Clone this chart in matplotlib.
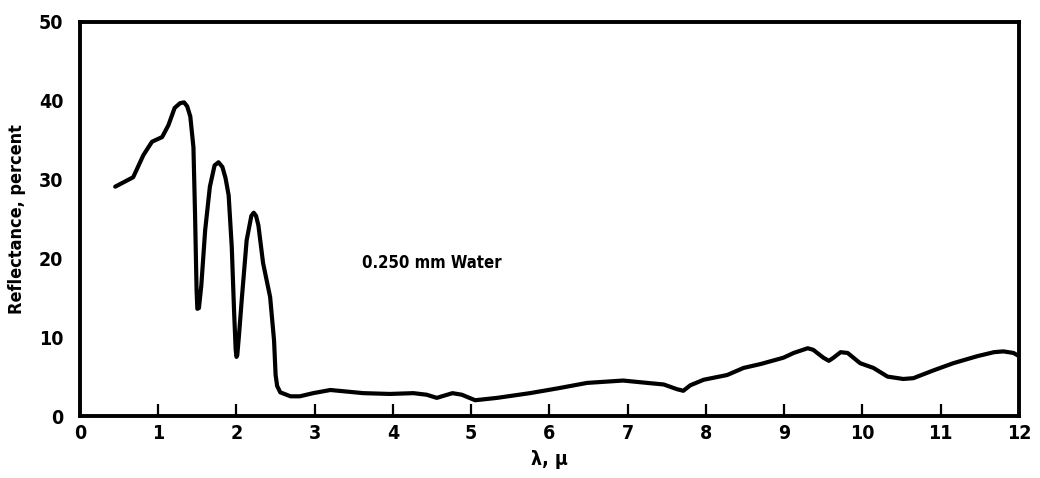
import matplotlib
matplotlib.use("Agg")
import matplotlib.pyplot as plt
from matplotlib import font_manager

# Reflectance spectrum of a 0.250 mm water layer
wavelength = [0.45, 0.68, 0.81, 0.92, 1.05, 1.13, 1.21, 1.28, 1.33, 1.37, 1.41, 1.45,
              1.47, 1.49, 1.50, 1.52, 1.55, 1.60, 1.66, 1.72, 1.77, 1.82, 1.86, 1.90,
              1.94, 1.97, 1.99, 2.00, 2.01, 2.03, 2.07, 2.13, 2.19, 2.22, 2.25, 2.28,
              2.34, 2.43, 2.48, 2.50, 2.52, 2.56, 2.69, 2.81, 2.98, 3.20, 3.62, 3.96,
              4.26, 4.43, 4.56, 4.76, 4.88, 5.05, 5.33, 5.75, 6.10, 6.48, 6.94, 7.25,
              7.46, 7.63, 7.71, 7.80, 7.97, 8.27, 8.48, 8.70, 8.99, 9.12, 9.30, 9.37,
              9.50, 9.57, 9.63, 9.72, 9.81, 9.97, 10.14, 10.32, 10.52, 10.65, 10.91,
              11.16, 11.47, 11.68, 11.80, 11.93, 12.00]
reflectance = [29.1, 30.3, 33.1, 34.8, 35.4, 36.9, 39.1, 39.7, 39.8, 39.3, 38.0, 34.1,
               25.8, 16.0, 13.6, 13.7, 16.5, 23.6, 29.1, 31.8, 32.2, 31.6, 30.2, 28.0,
               21.4, 13.1, 8.4, 7.5, 7.7, 10.0, 15.1, 22.3, 25.4, 25.8, 25.4, 24.2,
               19.4, 15.1, 9.6, 5.2, 3.8, 3.0, 2.5, 2.5, 2.9, 3.3, 2.9, 2.8,
               2.9, 2.7, 2.3, 2.9, 2.7, 2.0, 2.3, 2.9, 3.5, 4.2, 4.5, 4.2,
               4.0, 3.4, 3.2, 3.9, 4.6, 5.2, 6.1, 6.6, 7.4, 8.0, 8.6, 8.4,
               7.4, 7.0, 7.4, 8.1, 8.0, 6.7, 6.1, 5.0, 4.7, 4.8, 5.8,
               6.7, 7.6, 8.1, 8.2, 8.0, 7.6]

x_ticks = list(range(0, 13))
y_ticks = [0, 10, 20, 30, 40, 50]

# narrow bold face for all labels
names = {f.name for f in font_manager.fontManager.ttflist}
family = [n for n in ["DejaVu Sans Condensed", "Liberation Sans Narrow", "DejaVu Sans"] if n in names]
plt.rcParams["font.family"] = family
plt.rcParams["font.weight"] = "bold"
plt.rcParams["font.stretch"] = "condensed"

fig = plt.figure(figsize=(10.4, 4.78), dpi=100)
ax = fig.add_axes([0.0769, 0.1297, 0.9029, 0.8243])

ax.plot(wavelength, reflectance, color="black", linewidth=3.0,
        solid_capstyle="round", solid_joinstyle="round")

ax.set_xlim(0, 12)
ax.set_ylim(0, 50)
ax.set_xticks(x_ticks)
ax.set_yticks(y_ticks)
ax.set_xticklabels([str(t) for t in x_ticks], fontsize=14, fontweight="bold")
ax.set_yticklabels([str(t) for t in y_ticks], fontsize=14, fontweight="bold")
ax.tick_params(axis="x", direction="in", length=9, width=1.6, pad=6)
ax.tick_params(axis="y", length=0, pad=12)

for side in ax.spines.values():
    side.set_linewidth(2.8)

ax.set_xlabel("λ, μ", fontsize=14, fontweight="bold", labelpad=5)
ax.set_ylabel("Reflectance, percent", fontsize=13, fontweight="bold", labelpad=9)

ax.text(3.6, 19.4, "0.250 mm Water", fontsize=12, fontweight="bold",
        va="center", ha="left")

fig.savefig("out.png", dpi=100)
